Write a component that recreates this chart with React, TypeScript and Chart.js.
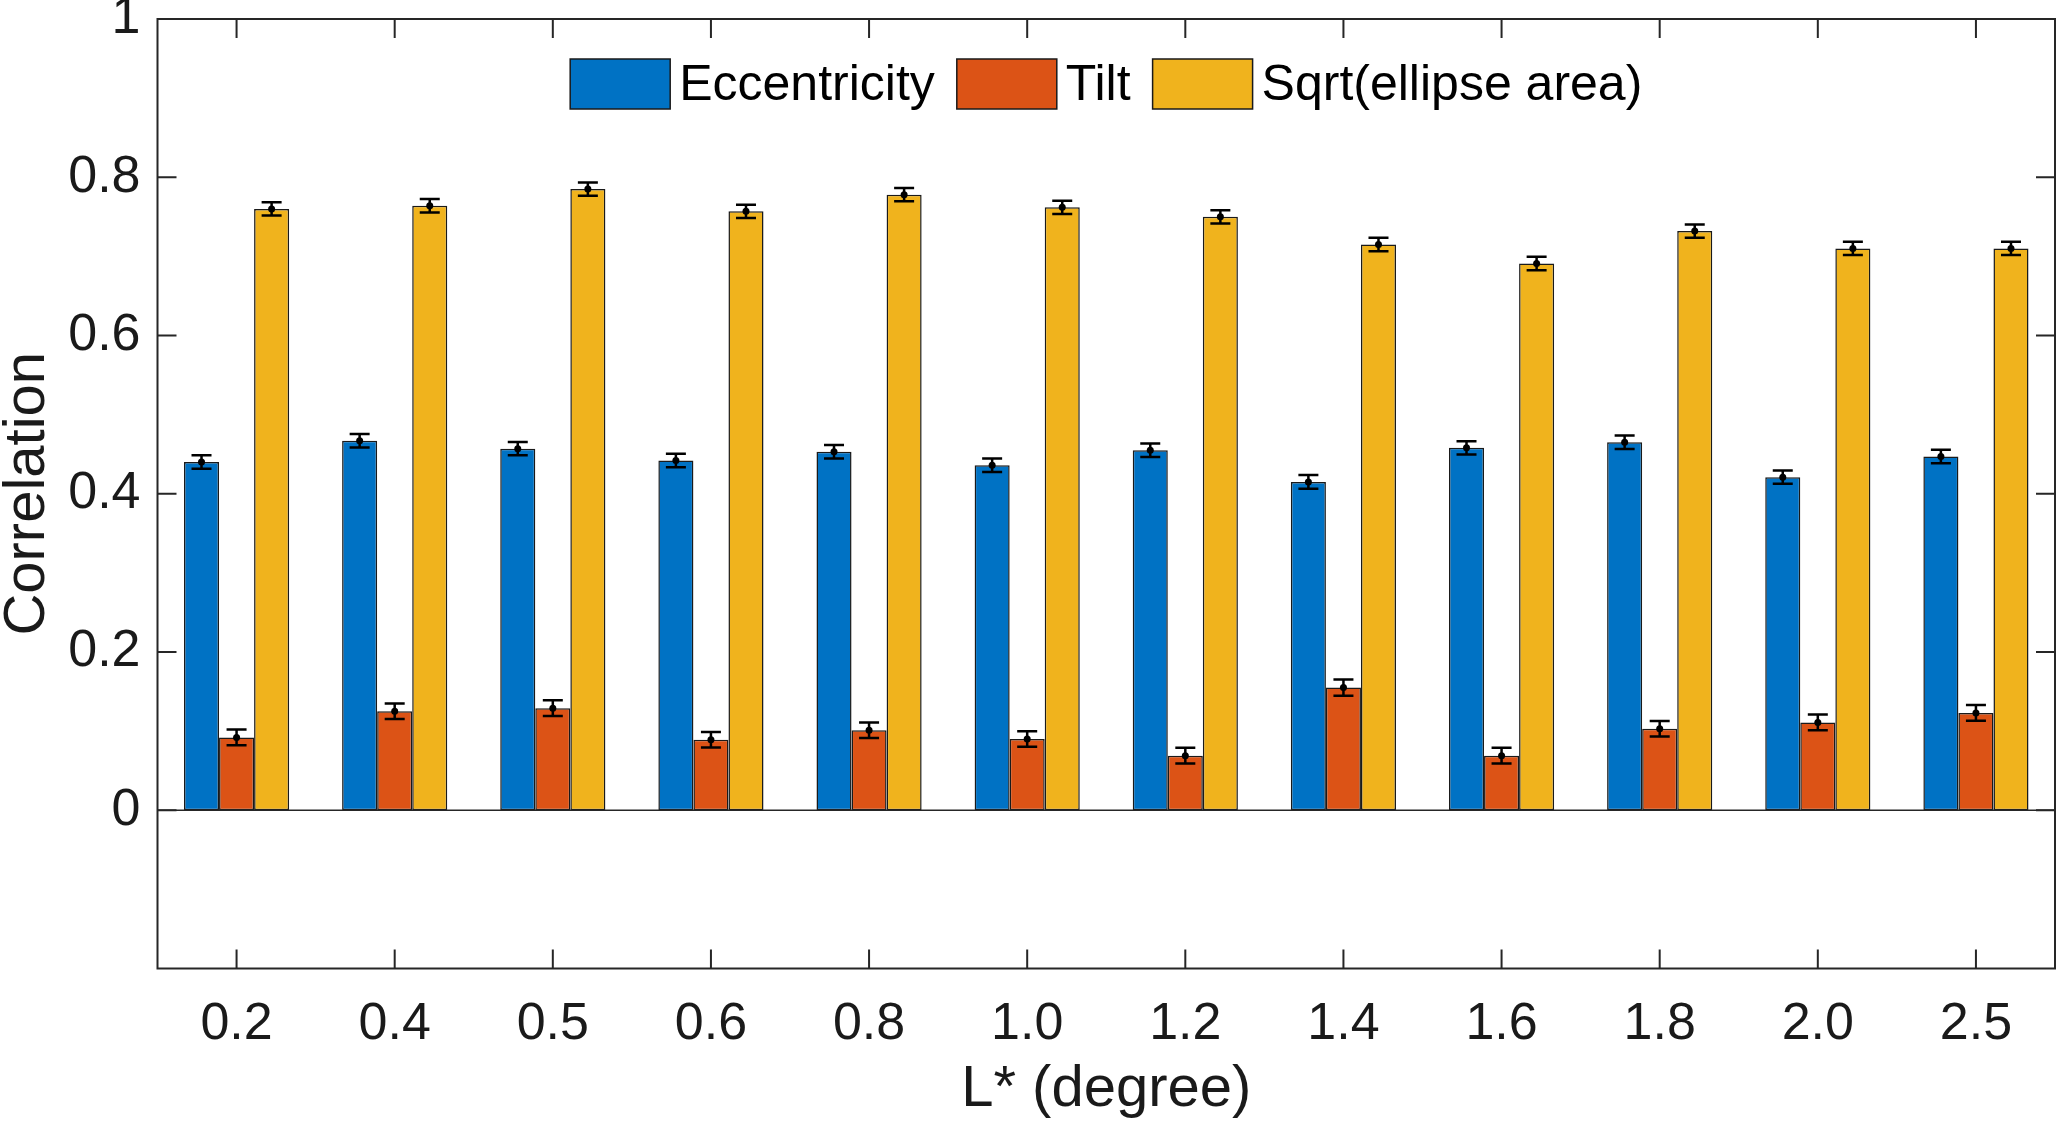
import React, { useEffect, useRef } from 'react';
import { Chart, registerables } from 'chart.js';

Chart.register(...registerables);

const categories = ['0.2', '0.4', '0.5', '0.6', '0.8', '1.0', '1.2', '1.4', '1.6', '1.8', '2.0', '2.5'];

const eccentricity = [0.440, 0.467, 0.457, 0.442, 0.453, 0.436, 0.455, 0.415, 0.458, 0.465, 0.421, 0.447];
const eccentricityErr = [0.0085, 0.0085, 0.0085, 0.0085, 0.0085, 0.0085, 0.0085, 0.0086, 0.0085, 0.0085, 0.0085, 0.0085];

const tilt = [0.092, 0.125, 0.129, 0.089, 0.101, 0.090, 0.069, 0.155, 0.069, 0.103, 0.111, 0.123];
const tiltErr = [0.0099, 0.0098, 0.01, 0.0098, 0.0098, 0.0098, 0.01, 0.0103, 0.01, 0.0099, 0.0099, 0.01];

const sqrtArea = [0.760, 0.764, 0.785, 0.757, 0.778, 0.762, 0.750, 0.715, 0.691, 0.732, 0.710, 0.710];
const sqrtAreaErr = [0.0084, 0.0084, 0.0084, 0.0084, 0.0084, 0.0084, 0.0084, 0.0084, 0.0084, 0.0084, 0.0084, 0.0084];

const yTickValues = [0, 0.2, 0.4, 0.6, 0.8, 1];

const FONT = "'Liberation Sans', Arial, Helvetica, sans-serif";
const AXIS_COLOR = '#262626';

// error bars, box with inward ticks, zero line and the in-plot legend
const matlabLook = {
    id: 'matlabLook',
    afterDatasetsDraw(chart: any) {
        const { ctx, chartArea } = chart;
        const yScale = chart.scales.y;
        const xScale = chart.scales.x;

        ctx.save();
        // baseline at 0
        const y0 = yScale.getPixelForValue(0);
        ctx.strokeStyle = AXIS_COLOR;
        ctx.lineWidth = 1.5;
        ctx.beginPath();
        ctx.moveTo(chartArea.left, y0);
        ctx.lineTo(chartArea.right, y0);
        ctx.stroke();

        // error bars
        chart.data.datasets.forEach((ds: any, i: number) => {
            const meta = chart.getDatasetMeta(i);
            meta.data.forEach((bar: any, j: number) => {
                const v = ds.data[j];
                const e = ds.errors[j];
                const x = bar.x;
                const yTop = yScale.getPixelForValue(v + e);
                const yBot = yScale.getPixelForValue(v - e);
                const cap = 10;
                ctx.strokeStyle = '#000';
                ctx.lineWidth = 2.5;
                ctx.beginPath();
                ctx.moveTo(x, yTop);
                ctx.lineTo(x, yBot);
                ctx.moveTo(x - cap, yTop);
                ctx.lineTo(x + cap, yTop);
                ctx.moveTo(x - cap, yBot);
                ctx.lineTo(x + cap, yBot);
                ctx.stroke();
                ctx.fillStyle = '#000';
                ctx.beginPath();
                ctx.arc(x, yScale.getPixelForValue(v), 3.5, 0, Math.PI * 2);
                ctx.fill();
            });
        });

        // box
        ctx.strokeStyle = AXIS_COLOR;
        ctx.lineWidth = 2;
        ctx.strokeRect(chartArea.left, chartArea.top, chartArea.right - chartArea.left, chartArea.bottom - chartArea.top);

        // inward ticks
        const tl = 19;
        ctx.beginPath();
        categories.forEach((_, i) => {
            const x = xScale.getPixelForValue(i);
            ctx.moveTo(x, chartArea.bottom);
            ctx.lineTo(x, chartArea.bottom - tl);
            ctx.moveTo(x, chartArea.top);
            ctx.lineTo(x, chartArea.top + tl);
        });
        yTickValues.forEach((v) => {
            const y = yScale.getPixelForValue(v);
            ctx.moveTo(chartArea.left, y);
            ctx.lineTo(chartArea.left + tl, y);
            ctx.moveTo(chartArea.right, y);
            ctx.lineTo(chartArea.right - tl, y);
        });
        ctx.stroke();

        // legend
        const boxW = 100;
        const boxH = 50;
        const textGap = 9;
        const itemGap = 22;
        ctx.font = `50px ${FONT}`;
        const items = chart.data.datasets.map((ds: any) => ({
            label: ds.label,
            color: ds.backgroundColor,
            w: ctx.measureText(ds.label).width,
        }));
        const total = items.reduce((s: number, it: any) => s + boxW + textGap + it.w, 0) + itemGap * (items.length - 1);
        let lx = (chartArea.left + chartArea.right) / 2 - total / 2;
        const cy = chartArea.top + 65;
        items.forEach((it: any) => {
            ctx.fillStyle = it.color;
            ctx.fillRect(lx, cy - boxH / 2, boxW, boxH);
            ctx.strokeStyle = '#1a1a1a';
            ctx.lineWidth = 1.5;
            ctx.strokeRect(lx, cy - boxH / 2, boxW, boxH);
            ctx.fillStyle = '#000';
            ctx.textAlign = 'left';
            ctx.textBaseline = 'middle';
            ctx.fillText(it.label, lx + boxW + textGap, cy + 2);
            lx += boxW + textGap + it.w + itemGap;
        });
        ctx.restore();
    },
};

const CorrelationBarChart: React.FC = () => {
    const chartRef = useRef<HTMLCanvasElement>(null);
    const chartInstance = useRef<Chart | null>(null);

    useEffect(() => {
        if (!chartRef.current) return;
        if (chartInstance.current) chartInstance.current.destroy();
        const ctx = chartRef.current.getContext('2d');
        if (!ctx) return;

        const barStyle = {
            borderColor: '#1a1a1a',
            borderWidth: 1.5,
            borderSkipped: false as const,
            categoryPercentage: 0.665,
            barPercentage: 1.0,
        };

        chartInstance.current = new Chart(ctx, {
            type: 'bar',
            data: {
                labels: categories,
                datasets: [
                    { label: 'Eccentricity', data: eccentricity, errors: eccentricityErr, backgroundColor: '#0072C4', ...barStyle } as any,
                    { label: 'Tilt', data: tilt, errors: tiltErr, backgroundColor: '#DC5316', ...barStyle } as any,
                    { label: 'Sqrt(ellipse area)', data: sqrtArea, errors: sqrtAreaErr, backgroundColor: '#F0B31D', ...barStyle } as any,
                ],
            },
            options: {
                responsive: false,
                devicePixelRatio: 1,
                animation: false,
                layout: { padding: { top: 19, right: 3, left: 0, bottom: 0 } },
                plugins: {
                    legend: { display: false },
                    tooltip: { enabled: false },
                },
                scales: {
                    x: {
                        grid: { display: false, drawTicks: false },
                        border: { display: false },
                        ticks: {
                            color: '#1a1a1a',
                            font: { family: FONT, size: 52 },
                            padding: 25,
                            maxRotation: 0,
                        },
                        title: {
                            display: true,
                            text: 'L* (degree)',
                            color: '#1a1a1a',
                            font: { family: FONT, size: 58 },
                            padding: { top: 0, bottom: 3 },
                        },
                        afterFit: (scale: any) => {
                            scale.height = 159.5;
                            scale.paddingLeft = 0;
                            scale.paddingRight = 0;
                        },
                    },
                    y: {
                        min: -0.2,
                        max: 1,
                        grid: { display: false, drawTicks: false },
                        border: { display: false },
                        afterBuildTicks: (scale: any) => {
                            scale.ticks = yTickValues.map((v) => ({ value: v }));
                        },
                        ticks: {
                            color: '#1a1a1a',
                            font: { family: FONT, size: 52 },
                            padding: 17,
                            callback: (v: any) => String(v),
                        },
                        title: {
                            display: true,
                            text: 'Correlation',
                            color: '#1a1a1a',
                            font: { family: FONT, size: 58 },
                            padding: { top: -7, bottom: 0 },
                        },
                        afterFit: (scale: any) => {
                            scale.width = 157.5;
                            scale.paddingTop = 0;
                            scale.paddingBottom = 0;
                        },
                    },
                },
            },
            plugins: [matlabLook],
        });

        return () => {
            if (chartInstance.current) {
                chartInstance.current.destroy();
                chartInstance.current = null;
            }
        };
    }, []);

    return (
        <div style={{ position: 'fixed', left: 0, top: 0, width: 2058, height: 1128, background: '#fff' }}>
            <canvas ref={chartRef} width={2058} height={1128} style={{ width: 2058, height: 1128 }}></canvas>
        </div>
    );
};

export default function App() {
    return <CorrelationBarChart />;
}
